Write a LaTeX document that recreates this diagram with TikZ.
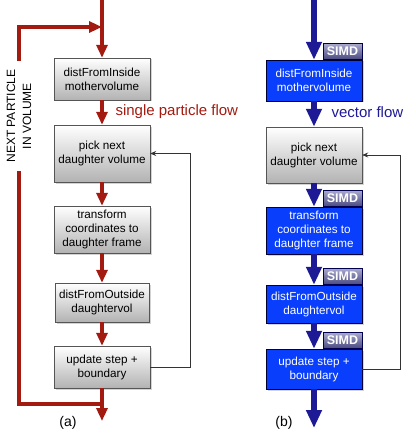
\documentclass[tikz,border=0pt]{standalone}
\usepackage{fontspec}
\setmainfont{Liberation Sans}
\usetikzlibrary{arrows.meta,positioning,shadows}

\definecolor{flowred}{RGB}{163,26,16}
\definecolor{flowblue}{RGB}{30,26,150}
\definecolor{vecblue}{RGB}{8,62,252}
\definecolor{boxedge}{RGB}{85,85,85}
\definecolor{tagtop}{RGB}{168,168,205}
\definecolor{tagbot}{RGB}{72,72,128}

\begin{document}
\begin{tikzpicture}[x=1pt,y=-1pt,
    every node/.style={font=\fontsize{11.7}{14}\selectfont},
    basebox/.style={minimum width=96pt, align=center, inner ysep=1pt,
      drop shadow={shadow xshift=1.5pt, shadow yshift=-1.5pt, opacity=.35}},
    stepbox/.style={basebox, draw=boxedge, top color=white, bottom color=black!30},
    vecbox/.style={basebox, draw=black!80!blue, fill=vecblue, text=white},
    simdtag/.style={draw=black!70!blue, top color=tagtop, bottom color=tagbot,
      text=white, minimum width=39pt, minimum height=16pt, inner sep=0pt,
      font=\fontsize{12.5}{13}\selectfont\bfseries, anchor=south east},
    redflow/.style={draw=flowred, line width=3.2pt, -{Triangle[width=11pt,length=13pt]}},
    blueflow/.style={draw=flowblue, line width=5.5pt, -{Triangle[width=15pt,length=18pt]}},
    loopline/.style={draw=black!80, line width=0.7pt, -{Stealth[width=5pt,length=6pt]}},
    flowlabel/.style={font=\fontsize{15}{17}\selectfont, anchor=west}
    ]
    \useasboundingbox (0,0) rectangle (415,441);

    % (a) single particle
    \node[stepbox, minimum height=42pt] (a1) at (102,79) {distFromInside\\mothervolume};
    \node[stepbox, minimum height=57pt] (a2) at (102,153.5) {pick next\\daughter volume};
    \node[stepbox, minimum height=47pt] (a3) at (102,229.5) {transform\\coordinates to\\daughter frame};
    \node[stepbox, minimum height=39pt, minimum width=94pt] (a4) at (102,302.5) {distFromOutside\\daughtervol};
    \node[stepbox, minimum height=42pt] (a5) at (102,367) {update step +\\boundary};

    \coordinate (atop) at (102,0);
    \coordinate (ajoin) at (102,27);
    \coordinate (asplit) at (102,404);
    \coordinate (aend) at (102,421);

    \draw[redflow] (atop) -- (a1);
    \draw[redflow] (a1) -- (a2);
    \draw[redflow] (a2) -- (a3);
    \draw[redflow] (a3) -- (a4);
    \draw[redflow] (a4) -- (a5);
    \draw[redflow] (a5) -- (aend);

    \node[rotate=90, align=center, inner xsep=8pt, font=\fontsize{12}{16}\selectfont] (next) at (19,116) {NEXT PARTICLE\\IN VOLUME};
    \draw[draw=flowred, line width=3.2pt] (asplit) -| (next.west);
    \draw[redflow] (next.east) |- (ajoin);

    \draw[loopline] (a5.east) -- ++(40,0) |- (a2.east);
    \node[flowlabel, text=flowred] (slabel) at (112,112) {single particle flow};
    \node[font=\fontsize{14}{16}\selectfont] (alabel) at (68,423) {(a)};

    % (b) vector
    \node[vecbox, minimum height=41pt] (b1) at (314,80.5) {distFromInside\\mothervolume};
    \node[stepbox, minimum height=56pt] (b2) at (314,155) {pick next\\daughter volume};
    \node[vecbox, minimum height=47pt] (b3) at (314,230.5) {transform\\coordinates to\\daughter frame};
    \node[vecbox, minimum height=38pt] (b4) at (314,304) {distFromOutside\\daughtervol};
    \node[vecbox, minimum height=40pt] (b5) at (314,369) {update step +\\boundary};

    \node[simdtag] (t1) at (b1.north east) {SIMD};
    \node[simdtag] (t3) at (b3.north east) {SIMD};
    \node[simdtag] (t4) at (b4.north east) {SIMD};
    \node[simdtag] (t5) at (b5.north east) {SIMD};

    \coordinate (btop) at (314,0);
    \coordinate (bend) at (314,428);

    \draw[blueflow] (btop) -- (b1);
    \draw[blueflow] (b1) -- (b2);
    \draw[blueflow] (b2) -- (b3);
    \draw[blueflow] (b3) -- (b4);
    \draw[blueflow] (b4) -- (b5);
    \draw[blueflow] (b5) -- (bend);

    \draw[loopline] (b5.east) -- ++(38,0) |- (b2.east);
    \node[flowlabel, text=flowblue] (vlabel) at (328,112) {vector flow};
    \node[font=\fontsize{14}{16}\selectfont] (blabel) at (284,423) {(b)};
\end{tikzpicture}
\end{document}
